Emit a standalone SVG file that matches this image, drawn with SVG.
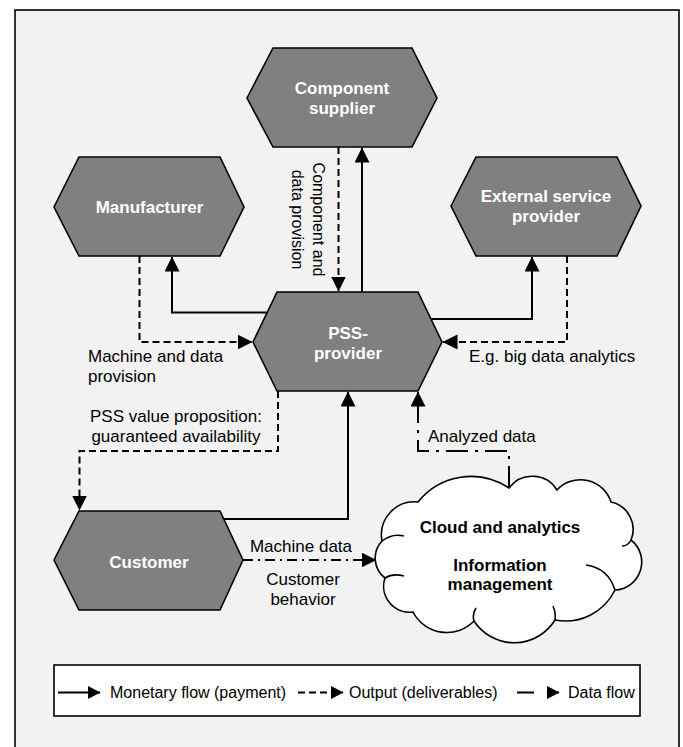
<svg xmlns="http://www.w3.org/2000/svg" width="683" height="747" viewBox="0 0 683 747">
<style>
text{font-family:"Liberation Sans",Arial,sans-serif;}
.hex{fill:#808080;stroke:#000;stroke-width:1.6;}
.nl{font-size:17px;font-weight:bold;fill:#fff;text-anchor:middle;}
.lbl{font-size:17px;fill:#000;}
.lg{font-size:16px;fill:#000;}
.c{fill:none;stroke:#000;stroke-width:2;}
.solid{marker-end:url(#arr);}
.dash{stroke-dasharray:7,4;marker-end:url(#arr);}
.dd{stroke-dasharray:22,7,3,7;marker-end:url(#arr);}
.dd2{stroke-dasharray:10,5,2,5;marker-end:url(#arr);}
</style>
<defs>
<marker id="arr" markerUnits="userSpaceOnUse" markerWidth="16" markerHeight="16" refX="14.5" refY="7.5" orient="auto">
<path d="M0,0 L15,7.5 L0,15 Z" fill="#000"/>
</marker>
<marker id="arrS" markerUnits="userSpaceOnUse" markerWidth="14" markerHeight="14" refX="12" refY="6.5" orient="auto">
<path d="M0,0 L12.5,6.5 L0,13 Z" fill="#000"/>
</marker>
</defs>
<rect x="0" y="0" width="683" height="747" fill="#fff"/>
<rect x="15" y="10" width="664" height="745" fill="#f2f2f2" stroke="#000" stroke-width="1.6"/>

<g id="connectors">
<path class="c dash" d="M338.5,147 V291"/>
<path class="c solid" d="M362,292 V148"/>
<path class="c solid" d="M268,312.5 H172 V257"/>
<path class="c dash" d="M139.5,256 V342 H252"/>
<path class="c solid" d="M431,319 H532 V257"/>
<path class="c dash" d="M567,256 V342 H443"/>
<path class="c dash" d="M278,391 V451 H79.5 V510"/>
<path class="c solid" d="M224,519 H348 V392"/>
<path class="c dd" d="M509,488 V451 H418 V392"/>
<path class="c dd2" d="M243,560 H376"/>
</g>

<g id="component-supplier">
<polygon class="hex" points="247,98 273,48 412,48 437,98 412,147 273,147"/>
<text class="nl" x="342" y="94">Component</text>
<text class="nl" x="342" y="114">supplier</text>
</g>
<g id="manufacturer">
<polygon class="hex" points="54,207 79,157 220,157 244,207 220,256 79,256"/>
<text class="nl" x="149.5" y="213">Manufacturer</text>
</g>
<g id="external-service-provider">
<polygon class="hex" points="451,206 476,157 617,157 641,206 617,256 476,256"/>
<text class="nl" x="546" y="202">External service</text>
<text class="nl" x="546" y="222">provider</text>
</g>
<g id="pss-provider">
<polygon class="hex" points="253,342 277,292 418,292 442,342 418,391 277,391"/>
<text class="nl" x="348" y="339">PSS-</text>
<text class="nl" x="348" y="359">provider</text>
</g>
<g id="customer">
<polygon class="hex" points="54,560 79,511 220,511 243,560 220,610 79,610"/>
<text class="nl" x="149" y="568">Customer</text>
</g>
<g id="cloud">
<path d="M418,502 A68,68 0 0 1 509,488 A29,29 0 0 1 557,490 A32,32 0 0 1 611,502 A28,28 0 0 1 631,540 A28,28 0 0 1 615,590 A55,55 0 0 1 555,620 A48,48 0 0 1 474,621 A38,38 0 0 1 413,612 A26,26 0 0 1 385,578 A25,25 0 0 1 382,541 A33,33 0 0 1 418,502 Z" fill="#fff" stroke="#000" stroke-width="1.6"/>
<path d="M615,590 Q608,568 586,565 M555,620 Q556,612 553,606 M474,621 Q472,614 476,608 M385,578 Q393,573 404,576 M382,541 Q392,533 404,536 M631,540 Q628,546 622,546" fill="none" stroke="#000" stroke-width="1.6"/>
<text x="500" y="533" font-size="17" font-weight="bold" text-anchor="middle">Cloud and analytics</text>
<text x="500" y="571" font-size="17" font-weight="bold" text-anchor="middle">Information</text>
<text x="500" y="590" font-size="17" font-weight="bold" text-anchor="middle">management</text>
</g>

<g id="labels">
<g transform="translate(312.5,219.5) rotate(90)">
<text class="lg" x="0" y="0" text-anchor="middle">Component and</text>
<text class="lg" x="0" y="20.5" text-anchor="middle">data provision</text>
</g>
<text class="lbl" x="88" y="362">Machine and data</text>
<text class="lbl" x="88" y="382">provision</text>
<text class="lbl" x="469" y="362">E.g. big data analytics</text>
<text class="lbl" x="176" y="422" text-anchor="middle">PSS value proposition:</text>
<text class="lbl" x="176" y="442" text-anchor="middle">guaranteed availability</text>
<text class="lbl" x="428" y="442">Analyzed data</text>
<text class="lbl" x="301" y="552" text-anchor="middle">Machine data</text>
<text class="lbl" x="303" y="585" text-anchor="middle">Customer</text>
<text class="lbl" x="303" y="605" text-anchor="middle">behavior</text>
</g>

<g id="legend">
<rect x="54" y="665" width="586" height="51" fill="#fff" stroke="#000" stroke-width="1.6"/>
<path d="M58,692.5 H100" fill="none" stroke="#000" stroke-width="2" marker-end="url(#arrS)"/>
<text class="lg" x="110" y="698">Monetary flow (payment)</text>
<path d="M298,692.5 H343" fill="none" stroke="#000" stroke-width="2" stroke-dasharray="7,4" marker-end="url(#arrS)"/>
<text class="lg" x="349" y="698">Output (deliverables)</text>
<path d="M517,692.5 H559" fill="none" stroke="#000" stroke-width="2" stroke-dasharray="17,13" marker-end="url(#arrS)"/>
<text class="lg" x="568" y="698">Data flow</text>
</g>
</svg>
